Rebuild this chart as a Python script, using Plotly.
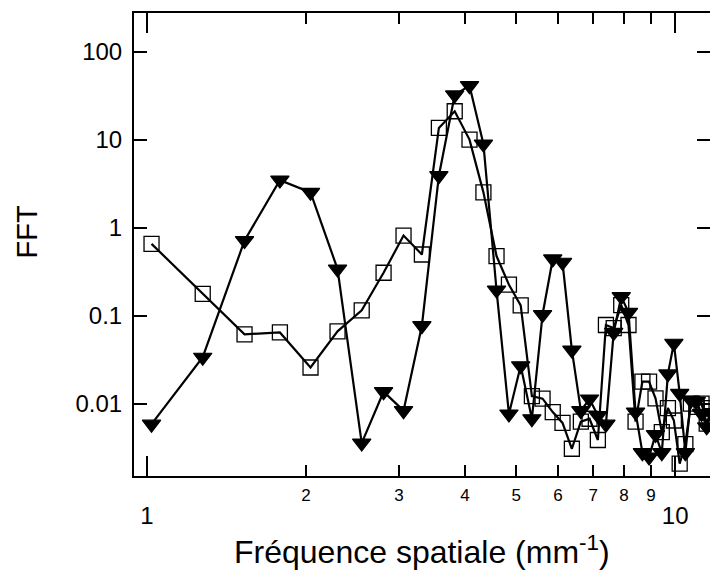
import plotly.graph_objects as go

# Spatial frequency (mm^-1)
freq = [1.02, 1.275, 1.53, 1.785, 2.04, 2.295, 2.55, 2.805, 3.06, 3.315,
        3.57, 3.825, 4.08, 4.335, 4.59, 4.845, 5.10, 5.355, 5.61, 5.865,
        6.12, 6.375, 6.63, 6.885, 7.14, 7.395, 7.65, 7.905, 8.16, 8.415,
        8.67, 8.925, 9.18, 9.435, 9.69, 9.945, 10.2, 10.455, 10.71, 10.965,
        11.22, 11.475, 11.73]

# FFT amplitude, open squares
fft_squares = [0.66, 0.178, 0.062, 0.065, 0.026, 0.067, 0.116, 0.31, 0.82, 0.50,
               13.7, 21.2, 10.1, 2.54, 0.48, 0.227, 0.132, 0.0123, 0.0115, 0.0081,
               0.0061, 0.0031, 0.0063, 0.0068, 0.0039, 0.079, 0.073, 0.133, 0.079, 0.0063,
               0.018, 0.018, 0.0116, 0.0048, 0.009, 0.0065, 0.0021, 0.0035, 0.0101, 0.0093,
               0.0101, 0.006, 0.009]

# FFT amplitude, filled down triangles
fft_triangles = [0.0059, 0.034, 0.72, 3.5, 2.54, 0.342, 0.0036, 0.0138, 0.0084, 0.0776,
                 3.93, 32.5, 41.4, 9.0, 0.197, 0.0077, 0.0272, 0.0068, 0.104, 0.445,
                 0.408, 0.041, 0.0084, 0.0114, 0.0074, 0.0059, 0.065, 0.166, 0.110, 0.0081,
                 0.0028, 0.0025, 0.0045, 0.0028, 0.022, 0.049, 0.0132, 0.0028, 0.011, 0.0107,
                 0.0078, 0.0055, 0.008]

x_major_ticks = [1, 10]
x_minor_ticks = [2, 3, 4, 5, 6, 7, 8, 9]
y_ticks = [0.01, 0.1, 1, 10, 100]
y_tick_text = ["0.01", "0.1", "1", "10", "100"]

FONT = "Liberation Sans, Arial, Helvetica, sans-serif"
XR = [-0.0246, 1.066]
YR = [-2.818, 2.443]

fig = go.Figure()
fig.add_trace(go.Scatter(
    x=freq, y=fft_squares, mode="lines+markers",
    xaxis="x", yaxis="y",
    line=dict(color="black", width=2.2),
    marker=dict(symbol="square-open", size=15, color="black", line=dict(width=1.3, color="black")),
    showlegend=False,
))
fig.add_trace(go.Scatter(
    x=freq, y=fft_triangles, mode="lines+markers",
    xaxis="x2", yaxis="y2",
    line=dict(color="black", width=2.2),
    marker=dict(symbol="triangle-down", size=16, color="black", line=dict(width=1.2, color="black")),
    showlegend=False,
))

fig.update_layout(
    width=710, height=575,
    margin=dict(l=134, r=0, t=13, b=99),
    paper_bgcolor="white", plot_bgcolor="white",
    font=dict(family=FONT, color="black"),
    xaxis=dict(
        type="log", range=XR, showgrid=False, zeroline=False, automargin=False,
        showline=True, linecolor="black", linewidth=2, mirror="ticks",
        ticks="inside", ticklen=20, tickwidth=2, tickcolor="black",
        tickmode="array", tickvals=x_major_ticks, ticktext=["1", "10"],
        tickfont=dict(size=24, family=FONT), ticklabelstandoff=17,
    ),
    xaxis2=dict(
        type="log", range=XR, overlaying="x", anchor="y", side="bottom",
        showgrid=False, zeroline=False, automargin=False,
        showline=True, linecolor="black", linewidth=2, mirror="ticks",
        ticks="inside", ticklen=11, tickwidth=2, tickcolor="black",
        tickmode="array", tickvals=x_minor_ticks, ticktext=[str(v) for v in x_minor_ticks],
        tickfont=dict(size=17, family=FONT), ticklabelstandoff=3,
    ),
    yaxis=dict(
        type="log", range=YR, showgrid=False, zeroline=False, automargin=False,
        showline=True, linecolor="black", linewidth=2,
        ticks="inside", ticklen=13, tickwidth=2, tickcolor="black",
        tickmode="array", tickvals=y_ticks, ticktext=y_tick_text,
        tickfont=dict(size=24, family=FONT), ticklabelstandoff=5,
    ),
    yaxis2=dict(
        type="log", range=YR, overlaying="y", anchor="x", side="right",
        showgrid=False, zeroline=False, showline=False, automargin=False,
        ticks="inside", ticklen=13, tickwidth=2, tickcolor="black",
        tickmode="array", tickvals=y_ticks, showticklabels=False,
    ),
    annotations=[
        dict(text="FFT", xref="paper", yref="paper", x=-0.186, y=0.528,
             xanchor="center", yanchor="middle", textangle=-90, showarrow=False,
             font=dict(size=29, family=FONT)),
        dict(text="Fréquence spatiale (mm<sup>-1</sup>)", xref="paper", yref="paper",
             x=0.5, y=-0.16, xanchor="center", yanchor="middle", showarrow=False,
             font=dict(size=32, family=FONT)),
    ],
)

fig.write_html(
    "out.html",
    config={"displayModeBar": False},
    post_script="document.body.style.margin='0';document.body.style.overflow='hidden';",
)
